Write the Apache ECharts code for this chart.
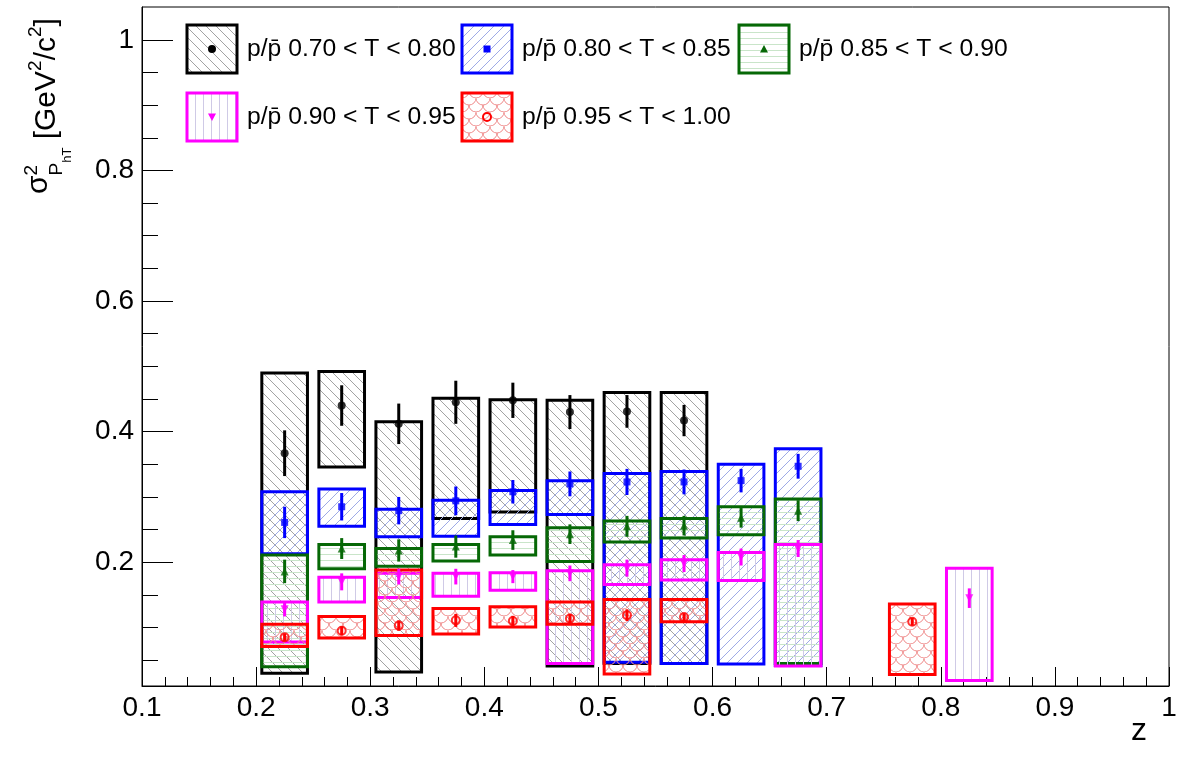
<!DOCTYPE html>
<html>
<head>
<meta charset="utf-8">
<script src="https://cdn.jsdelivr.net/npm/echarts@6/dist/echarts.min.js"></script>
<style>
html, body { margin: 0; padding: 0; background: #fff; }
#main { width: 1182px; height: 763px; }
</style>
</head>
<body>
<div id="main"></div>
<script>
const FONT = '"Liberation Sans", Arial, Helvetica, sans-serif';

// axis ticks
const yMajorTicks = [0.2, 0.4, 0.6, 0.8, 1];
const yMinorTicks = [0.05, 0.1, 0.15, 0.25, 0.3, 0.35, 0.45, 0.5, 0.55, 0.65, 0.7, 0.75, 0.85, 0.9, 0.95];

const legendLabels = [
    'p/p\u0304 0.70 < T < 0.80',
    'p/p\u0304 0.80 < T < 0.85',
    'p/p\u0304 0.85 < T < 0.90',
    'p/p\u0304 0.90 < T < 0.95',
    'p/p\u0304 0.95 < T < 1.00'
];

// 0.70 < T < 0.80
const zBlack = [0.225, 0.275, 0.325, 0.375, 0.425, 0.475, 0.525, 0.575];
const valBlack = [0.367, 0.440, 0.412, 0.445, 0.448, 0.430, 0.431, 0.417];
const errBlack = [0.035, 0.031, 0.031, 0.033, 0.027, 0.026, 0.025, 0.024];
const sysLoBlack = [0.030, 0.346, 0.032, 0.267, 0.277, 0.041, 0.045, 0.045];
const sysHiBlack = [0.490, 0.492, 0.415, 0.451, 0.449, 0.448, 0.460, 0.460];

// 0.80 < T < 0.85
const zBlue = [0.225, 0.275, 0.325, 0.375, 0.425, 0.475, 0.525, 0.575, 0.625, 0.675];
const valBlue = [0.261, 0.285, 0.279, 0.294, 0.308, 0.320, 0.323, 0.323, 0.325, 0.347];
const errBlue = [0.024, 0.021, 0.021, 0.022, 0.018, 0.019, 0.020, 0.019, 0.018, 0.019];
const sysLoBlue = [0.213, 0.255, 0.239, 0.240, 0.258, 0.273, 0.047, 0.045, 0.044, 0.042];
const sysHiBlue = [0.308, 0.312, 0.281, 0.295, 0.310, 0.325, 0.336, 0.339, 0.350, 0.374];

// 0.85 < T < 0.90
const zGreen = [0.225, 0.275, 0.325, 0.375, 0.425, 0.475, 0.525, 0.575, 0.625, 0.675];
const valGreen = [0.186, 0.221, 0.218, 0.224, 0.234, 0.243, 0.255, 0.256, 0.268, 0.279];
const errGreen = [0.018, 0.016, 0.017, 0.017, 0.015, 0.015, 0.016, 0.015, 0.015, 0.016];
const sysLoGreen = [0.040, 0.190, 0.194, 0.202, 0.211, 0.201, 0.231, 0.237, 0.242, 0.045];
const sysHiGreen = [0.211, 0.227, 0.221, 0.227, 0.239, 0.253, 0.263, 0.267, 0.285, 0.297];

// 0.90 < T < 0.95
const zMagenta = [0.225, 0.275, 0.325, 0.375, 0.425, 0.475, 0.525, 0.575, 0.625, 0.675, 0.825];
const valMagenta = [0.128, 0.170, 0.178, 0.178, 0.178, 0.183, 0.191, 0.198, 0.208, 0.221, 0.145];
const errMagenta = [0.011, 0.013, 0.012, 0.012, 0.010, 0.012, 0.013, 0.013, 0.013, 0.013, 0.015];
const sysLoMagenta = [0.078, 0.139, 0.146, 0.148, 0.157, 0.045, 0.166, 0.173, 0.172, 0.041, 0.019];
const sysHiMagenta = [0.139, 0.177, 0.183, 0.183, 0.184, 0.187, 0.196, 0.204, 0.215, 0.227, 0.191];

// 0.95 < T < 1.00
const zRed = [0.225, 0.275, 0.325, 0.375, 0.425, 0.475, 0.525, 0.575, 0.775];
const valRed = [0.085, 0.095, 0.103, 0.111, 0.110, 0.114, 0.119, 0.116, 0.109];
const errRed = [0.006, 0.007, 0.008, 0.010, 0.008, 0.007, 0.009, 0.006, 0.006];
const sysLoRed = [0.071, 0.084, 0.088, 0.090, 0.101, 0.105, 0.029, 0.109, 0.028];
const sysHiRed = [0.105, 0.117, 0.188, 0.129, 0.132, 0.139, 0.143, 0.143, 0.136];

const BOX_HALF = 0.02;

// hatch fills, drawn once into small tiles
function makeTile(w, h, color, draw) {
    const c = document.createElement('canvas');
    c.width = w;
    c.height = h;
    const ctx = c.getContext('2d');
    ctx.strokeStyle = color;
    ctx.lineWidth = 1;
    draw(ctx, w, h);
    return { image: c, repeat: 'repeat' };
}

const hatchBack = makeTile(10, 10, '#a2a2a2', (ctx, w, h) => {
    ctx.beginPath();
    for (let k = -1; k <= 1; k++) {
        ctx.moveTo(k * w, 0);
        ctx.lineTo(k * w + w, h);
    }
    ctx.stroke();
});
const hatchFwd = makeTile(10, 10, '#9eaae6', (ctx, w, h) => {
    ctx.beginPath();
    for (let k = -1; k <= 1; k++) {
        ctx.moveTo(k * w, h);
        ctx.lineTo(k * w + w, 0);
    }
    ctx.stroke();
});
const hatchHoriz = makeTile(6, 6, '#c9e5c9', (ctx, w, h) => {
    ctx.beginPath();
    ctx.moveTo(0, 2.5);
    ctx.lineTo(w, 2.5);
    ctx.stroke();
});
const hatchVert = makeTile(8, 8, '#cfcae6', (ctx, w, h) => {
    ctx.beginPath();
    ctx.moveTo(3.5, 0);
    ctx.lineTo(3.5, h);
    ctx.stroke();
});
const hatchScale = makeTile(14, 14, '#ef8c8c', (ctx, w, h) => {
    const r = w / 2;
    [[w / 2, 0], [0, h / 2], [w, h / 2], [w / 2, h]].forEach(([cx, cy]) => {
        ctx.beginPath();
        ctx.arc(cx, cy, r, 0, Math.PI);
        ctx.stroke();
    });
});

const sets = [
    { name: legendLabels[0], z: zBlack, val: valBlack, err: errBlack, lo: sysLoBlack, hi: sysHiBlack,
      color: '#000000', fill: hatchBack, marker: 'circle', size: 8, rotate: 0, hollow: false },
    { name: legendLabels[1], z: zBlue, val: valBlue, err: errBlue, lo: sysLoBlue, hi: sysHiBlue,
      color: '#0000ff', fill: hatchFwd, marker: 'rect', size: 7, rotate: 0, hollow: false },
    { name: legendLabels[2], z: zGreen, val: valGreen, err: errGreen, lo: sysLoGreen, hi: sysHiGreen,
      color: '#066806', fill: hatchHoriz, marker: 'triangle', size: 8, rotate: 0, hollow: false },
    { name: legendLabels[3], z: zMagenta, val: valMagenta, err: errMagenta, lo: sysLoMagenta, hi: sysHiMagenta,
      color: '#ff00ff', fill: hatchVert, marker: 'triangle', size: 8, rotate: 180, hollow: false },
    { name: legendLabels[4], z: zRed, val: valRed, err: errRed, lo: sysLoRed, hi: sysHiRed,
      color: '#ff0000', fill: hatchScale, marker: 'circle', size: 8, rotate: 0, hollow: true }
];

function boxItem(set) {
    return function (params, api) {
        const z = api.value(0);
        const tl = api.coord([z - BOX_HALF, api.value(2)]);
        const br = api.coord([z + BOX_HALF, api.value(1)]);
        return {
            type: 'rect',
            shape: { x: tl[0], y: tl[1], width: br[0] - tl[0], height: br[1] - tl[1] },
            style: { fill: set.fill, stroke: set.color, lineWidth: 3 }
        };
    };
}

function barItem(set) {
    return function (params, api) {
        const a = api.coord([api.value(0), api.value(1)]);
        const b = api.coord([api.value(0), api.value(2)]);
        return {
            type: 'line',
            shape: { x1: a[0], y1: a[1], x2: b[0], y2: b[1] },
            style: { stroke: set.color, lineWidth: 3 }
        };
    };
}

const series = [];
sets.forEach((s, k) => {
    series.push({
        type: 'custom',
        name: s.name,
        z: 2 + k * 0.01,
        renderItem: boxItem(s),
        encode: { x: 0, y: [1, 2] },
        data: s.z.map((z, i) => [z, s.lo[i], s.hi[i]]),
        silent: true
    });
});
sets.forEach((s) => {
    series.push({
        type: 'custom',
        name: s.name,
        z: 3,
        renderItem: barItem(s),
        encode: { x: 0, y: [1, 2] },
        data: s.z.map((z, i) => [z, s.val[i] - s.err[i], s.val[i] + s.err[i]]),
        silent: true
    });
    series.push({
        type: 'scatter',
        name: s.name,
        z: 4,
        symbol: s.marker,
        symbolSize: s.size,
        symbolRotate: s.rotate,
        itemStyle: s.hollow
            ? { color: 'rgba(255,255,255,0)', borderColor: s.color, borderWidth: 2 }
            : { color: s.color },
        data: s.z.map((z, i) => [z, s.val[i]])
    });
});

// legend, drawn as boxes like the ROOT TLegend
const legendPos = [[187, 25], [462, 25], [739, 25], [187, 93], [462, 93]];
const LEG_W = 50, LEG_H = 48;

function legendMarker(s, cx, cy) {
    if (s.marker === 'circle' && !s.hollow) {
        return { type: 'circle', shape: { cx: cx, cy: cy, r: 4 }, style: { fill: s.color } };
    }
    if (s.marker === 'circle') {
        return { type: 'circle', shape: { cx: cx, cy: cy, r: 4 }, style: { fill: 'none', stroke: s.color, lineWidth: 2 } };
    }
    if (s.marker === 'rect') {
        return { type: 'rect', shape: { x: cx - 3.5, y: cy - 3.5, width: 7, height: 7 }, style: { fill: s.color } };
    }
    const d = s.rotate ? -1 : 1;
    return {
        type: 'polygon',
        shape: { points: [[cx, cy - 4 * d], [cx + 4, cy + 3.5 * d], [cx - 4, cy + 3.5 * d]] },
        style: { fill: s.color }
    };
}

const graphic = [];
sets.forEach((s, k) => {
    const [x, y] = legendPos[k];
    graphic.push({
        type: 'rect',
        shape: { x: x, y: y, width: LEG_W, height: LEG_H },
        style: { fill: s.fill, stroke: s.color, lineWidth: 3 }
    });
    graphic.push(legendMarker(s, x + LEG_W / 2, y + LEG_H / 2));
    graphic.push({
        type: 'text',
        x: x + LEG_W + 10,
        y: y + LEG_H / 2,
        style: { text: s.name, font: '24.7px ' + FONT, fill: '#000', verticalAlign: 'middle' }
    });
});

// y title: sigma^2_{P_{hT}} [GeV^2/c^2], built piece by piece
const measureCtx = document.createElement('canvas').getContext('2d');
function textWidth(t, size) {
    measureCtx.font = size + 'px ' + FONT;
    return measureCtx.measureText(t).width;
}
const titlePieces = [
    { t: '\u03c3', s: 30, b: -8 },
    { t: '2', s: 19, b: -19, stack: true },
    { t: 'P', s: 19, b: 6 },
    { t: 'hT', s: 13, b: 15 },
    { t: ' [GeV', s: 30, b: 0 },
    { t: '2', s: 19, b: -15 },
    { t: '/c', s: 30, b: 0 },
    { t: '2', s: 19, b: -15 },
    { t: ']', s: 30, b: 0 }
];
const titleChildren = [];
let px = 0;
titlePieces.forEach((p) => {
    titleChildren.push({
        type: 'text',
        x: px,
        y: p.b - 0.35 * p.s,
        style: { text: p.t, font: p.s + 'px ' + FONT, fill: '#000', verticalAlign: 'middle' }
    });
    if (!p.stack) px += textWidth(p.t, p.s);
});
graphic.push({ type: 'group', x: 57, y: 194, rotation: Math.PI / 2, children: titleChildren });

graphic.push({
    type: 'text',
    x: 1139,
    y: 731,
    style: { text: 'z', font: '32px ' + FONT, fill: '#000', align: 'center', verticalAlign: 'middle' }
});

const myChart = echarts.init(document.getElementById('main'));

const option = {
    animation: false,
    backgroundColor: '#ffffff',
    grid: {
        left: 142, right: 13, top: 7, bottom: 77,
        show: true, borderColor: '#000', borderWidth: 1, backgroundColor: 'transparent'
    },
    xAxis: {
        type: 'value',
        min: 0.1,
        max: 1,
        interval: 0.1,
        axisLine: { onZero: false, lineStyle: { color: '#000', width: 1 } },
        axisTick: { inside: true, length: 19, lineStyle: { color: '#000', width: 1 } },
        minorTick: { show: true, splitNumber: 5, length: 9, lineStyle: { color: '#000', width: 1 } },
        splitLine: { show: false },
        axisLabel: { color: '#000', fontSize: 28, fontFamily: FONT, margin: 8 }
    },
    yAxis: [
        {
            type: 'value',
            min: 0.0105,
            max: 1.0503,
            axisLine: { show: true, onZero: false, lineStyle: { color: '#000', width: 1 } },
            axisTick: { show: true, inside: true, length: 31, customValues: yMajorTicks, lineStyle: { color: '#000', width: 1 } },
            splitLine: { show: false },
            axisLabel: { color: '#000', fontSize: 28, fontFamily: FONT, margin: 8, customValues: yMajorTicks }
        },
        {
            type: 'value',
            position: 'left',
            min: 0.0105,
            max: 1.0503,
            axisLine: { show: false },
            axisTick: { show: true, inside: true, length: 16, customValues: yMinorTicks, lineStyle: { color: '#000', width: 1 } },
            splitLine: { show: false },
            axisLabel: { show: false }
        }
    ],
    graphic: graphic,
    series: series
};

myChart.setOption(option);
</script>
</body>
</html>
